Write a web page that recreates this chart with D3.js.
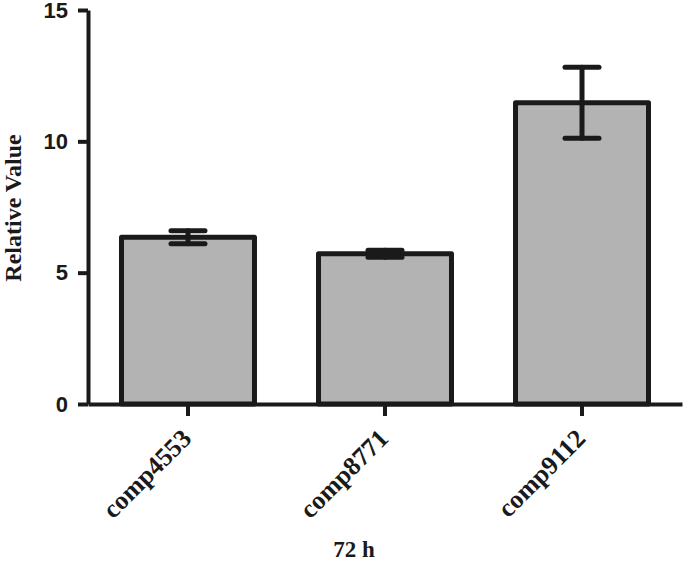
<!DOCTYPE html>
<html>
<head>
<meta charset="utf-8">
<script src="https://cdn.jsdelivr.net/npm/d3@7"></script>
<style>
  html, body { margin: 0; padding: 0; background: #fff; }
  svg { display: block; }
</style>
</head>
<body>
<svg id="chart" width="685" height="562"></svg>
<script>
const categories = ["comp4553", "comp8771", "comp9112"];
const values = [6.35, 5.72, 11.47];
const errors = [0.25, 0.13, 1.35];
const yTicks = [0, 5, 10, 15];
const xTitle = "72 h";
const yTitle = "Relative Value";

const svg = d3.select("#chart");
const ink = "#1a1a1a";
const x0 = 88, x1 = 682, yTop = 10, yBot = 404;

const x = d3.scaleBand().domain(categories).range([x0, x1]).paddingInner(0.325).paddingOuter(0.17);
const y = d3.scaleLinear().domain([0, 15]).range([yBot, yTop]);

// bars
svg.append("g").selectAll("rect").data(categories).join("rect")
  .attr("x", d => x(d))
  .attr("y", (d, i) => y(values[i]))
  .attr("width", x.bandwidth())
  .attr("height", (d, i) => yBot - y(values[i]))
  .attr("fill", "#b3b3b3")
  .attr("stroke", ink)
  .attr("stroke-width", 5)
  .attr("stroke-linejoin", "round");

// error bars
const eg = svg.append("g").attr("stroke", ink).attr("stroke-width", 5).attr("stroke-linecap", "round");
categories.forEach((c, i) => {
  const cx = x(c) + x.bandwidth() / 2;
  const hi = y(values[i] + errors[i]), lo = y(values[i] - errors[i]);
  eg.append("line").attr("x1", cx).attr("x2", cx).attr("y1", hi).attr("y2", lo);
  eg.append("line").attr("x1", cx - 17).attr("x2", cx + 17).attr("y1", hi).attr("y2", hi);
  eg.append("line").attr("x1", cx - 17).attr("x2", cx + 17).attr("y1", lo).attr("y2", lo);
});

// y axis
const ya = svg.append("g").attr("transform", `translate(${x0},0)`)
  .call(d3.axisLeft(y).tickValues(yTicks).tickSize(10).tickSizeOuter(0).tickPadding(10));
ya.select(".domain").attr("stroke", ink).attr("stroke-width", 4);
ya.selectAll(".tick line").attr("stroke", ink).attr("stroke-width", 4);
ya.selectAll(".tick text")
  .attr("font-family", "'Liberation Sans', Arial, sans-serif")
  .attr("font-weight", "bold")
  .attr("font-size", 22)
  .attr("fill", ink);

// x axis
const xa = svg.append("g").attr("transform", `translate(0,${yBot})`)
  .call(d3.axisBottom(x).tickSize(12).tickSizeOuter(0));
xa.select(".domain").attr("stroke", ink).attr("stroke-width", 4);
xa.selectAll(".tick line").attr("stroke", ink).attr("stroke-width", 4);
xa.selectAll(".tick text")
  .attr("font-family", "'Liberation Serif', 'Times New Roman', serif")
  .attr("font-weight", "bold")
  .attr("font-size", 26)
  .attr("fill", ink)
  .attr("text-anchor", "end")
  .attr("dy", null)
  .attr("y", null)
  .attr("transform", "translate(5,36) rotate(-45)");

// titles
svg.append("text")
  .attr("x", 354).attr("y", 557)
  .attr("text-anchor", "middle")
  .attr("font-family", "'Liberation Serif', 'Times New Roman', serif")
  .attr("font-weight", "bold")
  .attr("font-size", 23)
  .attr("fill", ink)
  .text(xTitle);

svg.append("text")
  .attr("transform", "translate(21,208) rotate(-90)")
  .attr("text-anchor", "middle")
  .attr("font-family", "'Liberation Serif', 'Times New Roman', serif")
  .attr("font-weight", "bold")
  .attr("font-size", 24)
  .attr("fill", ink)
  .text(yTitle);
</script>
</body>
</html>
